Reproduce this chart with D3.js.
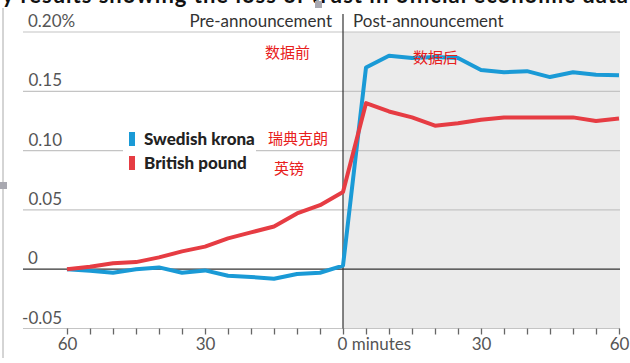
<!DOCTYPE html>
<html>
<head>
<meta charset="utf-8">
<script src="https://cdn.jsdelivr.net/npm/d3@7"></script>
<style>
  body { margin: 0; background: #fff; }
  svg { display: block; font-family: Lato, "Open Sans", sans-serif; }
</style>
</head>
<body>
<svg id="chart"></svg>
<script>
// minutes relative to the announcement
const minutes = [-60, -55, -50, -45, -40, -35, -30, -25, -20, -15, -10, -5, 0,
                 5, 10, 15, 20, 25, 30, 35, 40, 45, 50, 55, 60];
// % change
const krona = [0, -0.0014, -0.003, 0, 0.0015, -0.003, -0.001, -0.0055, -0.0065, -0.008, -0.004, -0.003, 0.003,
               0.170, 0.180, 0.178, 0.179, 0.178, 0.168, 0.166, 0.167, 0.162, 0.166, 0.164, 0.1635];
const pound = [0, 0.002, 0.005, 0.006, 0.010, 0.015, 0.019, 0.026, 0.031, 0.036, 0.047, 0.054, 0.065,
               0.140, 0.133, 0.128, 0.121, 0.123, 0.126, 0.128, 0.128, 0.128, 0.128, 0.125, 0.127];
const yTicks = [-0.05, 0, 0.05, 0.10, 0.15, 0.20];
const xLabels = [-60, -30, 0, 30, 60];
const seriesNames = ["Swedish krona", "British pound"];
const seriesNotes = ["瑞典克朗", "英镑"];

const width = 630, height = 363;
const svg = d3.select("#chart").attr("width", width).attr("height", height);

const x = d3.scaleLinear().domain([-60, 60]).range([67, 619]);
const y = d3.scaleLinear().domain([-0.05, 0.20]).range([328.5, 32]);
const gridLeft = 23, gridRight = 620;

// cut-off title strip at the top
svg.append("text")
  .attr("x", 2).attr("y", 3)
  .attr("textLength", 626)
  .style("font-size", "22px").style("font-weight", "bold").style("fill", "#111")
  .text("y results showing the loss of trust in official economic data");

// post-announcement shading
svg.append("rect")
  .attr("x", x(0)).attr("y", y(0.20))
  .attr("width", gridRight - x(0)).attr("height", y(-0.05) - y(0.20))
  .style("fill", "#ebebeb");

// gridlines
svg.selectAll(".grid")
  .data(yTicks.filter(d => d !== 0))
  .enter().append("line")
  .attr("x1", gridLeft).attr("x2", gridRight)
  .attr("y1", d => y(d)).attr("y2", d => y(d))
  .style("stroke", "#c4c4c4").style("stroke-width", 1.2);

// y labels
svg.selectAll(".ylab")
  .data(yTicks)
  .enter().append("text")
  .attr("x", d => (d === 0 || d === 0.20) ? 28 : 62)
  .attr("y", d => y(d) - 5)
  .style("text-anchor", d => (d === 0 || d === 0.20) ? "start" : "end")
  .style("font-size", "17px").style("fill", "#555")
  .text(d => d === 0 ? "0" : d === 0.20 ? "0.20%" : d.toFixed(2));

// x axis ticks
const axisX = d3.axisBottom(x)
  .tickValues(d3.range(-60, 61, 5))
  .tickSize(6)
  .tickFormat(d => xLabels.includes(d) ? (d === 0 ? "0 minutes" : Math.abs(d)) : "");
const gx = svg.append("g")
  .attr("transform", `translate(0, ${y(-0.05)})`)
  .call(axisX);
gx.select(".domain").remove();
gx.selectAll("line").style("stroke", "#666").style("stroke-width", 1.3);
gx.selectAll("text")
  .style("font-family", "Lato, sans-serif").style("font-size", "17px").style("fill", "#555")
  .attr("y", 9);
gx.selectAll(".tick text").filter(d => d === 0)
  .style("text-anchor", "start").attr("x", -6);

// zero line and divider
svg.append("line")
  .attr("x1", gridLeft).attr("x2", gridRight)
  .attr("y1", y(0)).attr("y2", y(0))
  .style("stroke", "#333").style("stroke-width", 1.2);
svg.append("line")
  .attr("x1", x(0)).attr("x2", x(0))
  .attr("y1", 14).attr("y2", y(-0.05))
  .style("stroke", "#333").style("stroke-width", 1.2);

// headers
svg.append("text")
  .attr("x", x(0) - 11).attr("y", 27)
  .style("text-anchor", "end").style("font-size", "17px").style("fill", "#333")
  .text("Pre-announcement");
svg.append("text")
  .attr("x", x(0) + 10).attr("y", 27)
  .style("font-size", "17px").style("fill", "#333")
  .text("Post-announcement");

// lines
const line = d3.line()
  .x((d, i) => x(minutes[i]))
  .y(d => y(d));
const colors = ["#1a9ad6", "#e63c43"];
[krona, pound].forEach((s, k) => {
  svg.append("path")
    .datum(s)
    .attr("d", line)
    .style("fill", "none")
    .style("stroke", colors[k])
    .style("stroke-width", 4)
    .style("stroke-linejoin", "round");
});

// legend
svg.append("rect")
  .attr("x", 123).attr("y", 127).attr("width", 133).attr("height", 48)
  .style("fill", "#fff");
const leg = svg.selectAll(".leg")
  .data(seriesNames)
  .enter().append("g")
  .attr("transform", (d, i) => `translate(129, ${132 + i * 24})`);
leg.append("rect")
  .attr("width", 6).attr("height", 14)
  .style("fill", (d, i) => colors[i]);
leg.append("text")
  .attr("x", 15).attr("y", 13)
  .style("font-size", "17px").style("font-weight", "900").style("fill", "#222")
  .text(d => d);

// red annotations
const noteFont = "'Noto Sans CJK SC', sans-serif";
const notes = [
  { t: "数据前", x: 265, y: 58 },
  { t: "数据后", x: 413, y: 63 },
  { t: seriesNotes[0], x: 268, y: 144 },
  { t: seriesNotes[1], x: 274, y: 174 }
];
svg.selectAll(".note")
  .data(notes)
  .enter().append("text")
  .attr("x", d => d.x).attr("y", d => d.y)
  .style("font-family", noteFont).style("font-size", "15px").style("fill", "#e8201c")
  .text(d => d.t);

// selection frame remnants on the left
svg.append("line")
  .attr("x1", 3).attr("x2", 3).attr("y1", 8).attr("y2", 358)
  .style("stroke", "#aaa").style("stroke-width", 1);
svg.append("rect").attr("x", 0).attr("y", 182).attr("width", 7).attr("height", 7).style("fill", "#a8a8b0");
svg.append("rect").attr("x", 315).attr("y", 1).attr("width", 7).attr("height", 7).style("fill", "#a8a8b0");
</script>
</body>
</html>
